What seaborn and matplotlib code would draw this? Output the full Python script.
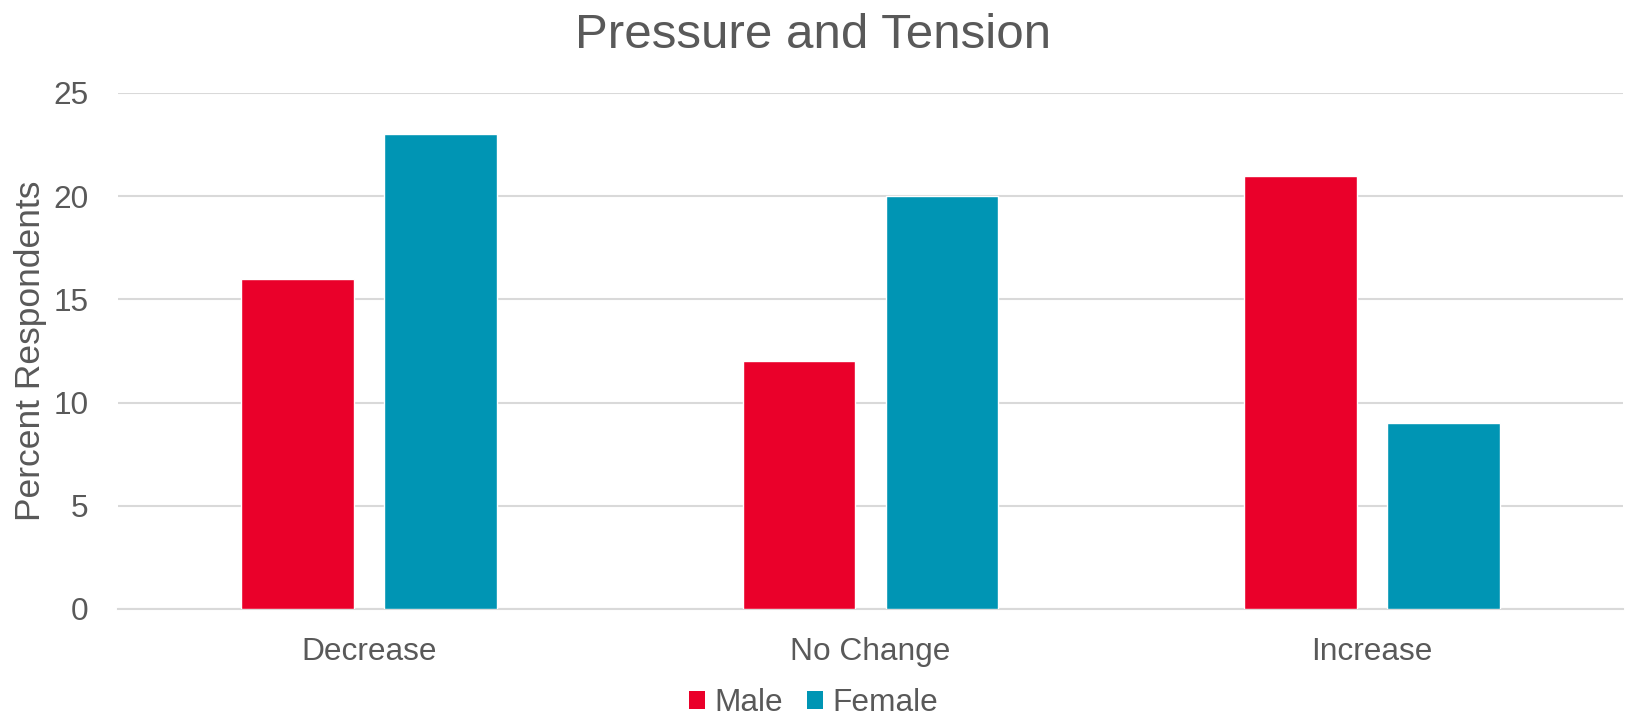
import matplotlib
matplotlib.use("Agg")
import matplotlib.pyplot as plt
from matplotlib.patches import Patch
import seaborn as sns
import pandas as pd

categories = ["Decrease", "No Change", "Increase"]
male = [16, 12, 21]
female = [23, 20, 9]
series = ["Male", "Female"]
colors = {"Male": "#EA002A", "Female": "#0095B4"}
yticks = [0, 5, 10, 15, 20, 25]

df = pd.DataFrame({
    "Change": categories * 2,
    "Gender": ["Male"] * len(categories) + ["Female"] * len(categories),
    "Percent": male + female,
})

sns.set_theme(style="white")
plt.rcParams["font.family"] = ["Liberation Sans", "DejaVu Sans"]
text_color = "#595959"
grid_color = "#D9D9D9"

fig = plt.figure(figsize=(16.27, 7.19), dpi=100)
ax = fig.add_axes([118 / 1627, 1 - 609 / 719, (1623 - 118) / 1627, (609 - 93) / 719])

sns.barplot(data=df, x="Change", y="Percent", hue="Gender", hue_order=series,
            order=categories, palette=colors, width=0.57, gap=0.21,
            saturation=1, ax=ax, legend=False, zorder=3)

ax.set_xlim(-0.5, 2.5)
ax.set_ylim(0, 25)
ax.set_yticks(yticks)
ax.yaxis.grid(True, color=grid_color, linewidth=1.5, zorder=0)
ax.set_axisbelow(True)
for side in ["top", "right", "left"]:
    ax.spines[side].set_visible(False)
ax.spines["bottom"].set_color(grid_color)
ax.spines["bottom"].set_linewidth(1.5)

ax.tick_params(axis="y", length=0, pad=21, labelsize=22.8, labelcolor=text_color)
ax.tick_params(axis="x", length=0, pad=20, labelsize=22.8, labelcolor=text_color)
ax.set_xlabel("")
ax.set_ylabel("Percent Respondents", fontsize=25.5, color=text_color, labelpad=5)

fig.suptitle("Pressure and Tension", fontsize=35.5, color=text_color, y=1 - 35 / 719, va="center")

handles = [Patch(facecolor=colors[s], edgecolor="none", label=s) for s in series]
fig.legend(handles=handles, loc="center", bbox_to_anchor=(0.5, 1 - 703 / 719), ncol=2,
           frameon=False, fontsize=22.8, labelcolor=text_color,
           handlelength=0.51, handleheight=0.51, handletextpad=0.29, columnspacing=0.77,
           borderaxespad=0, borderpad=0)

fig.savefig("out.png", dpi=100, facecolor="white")
